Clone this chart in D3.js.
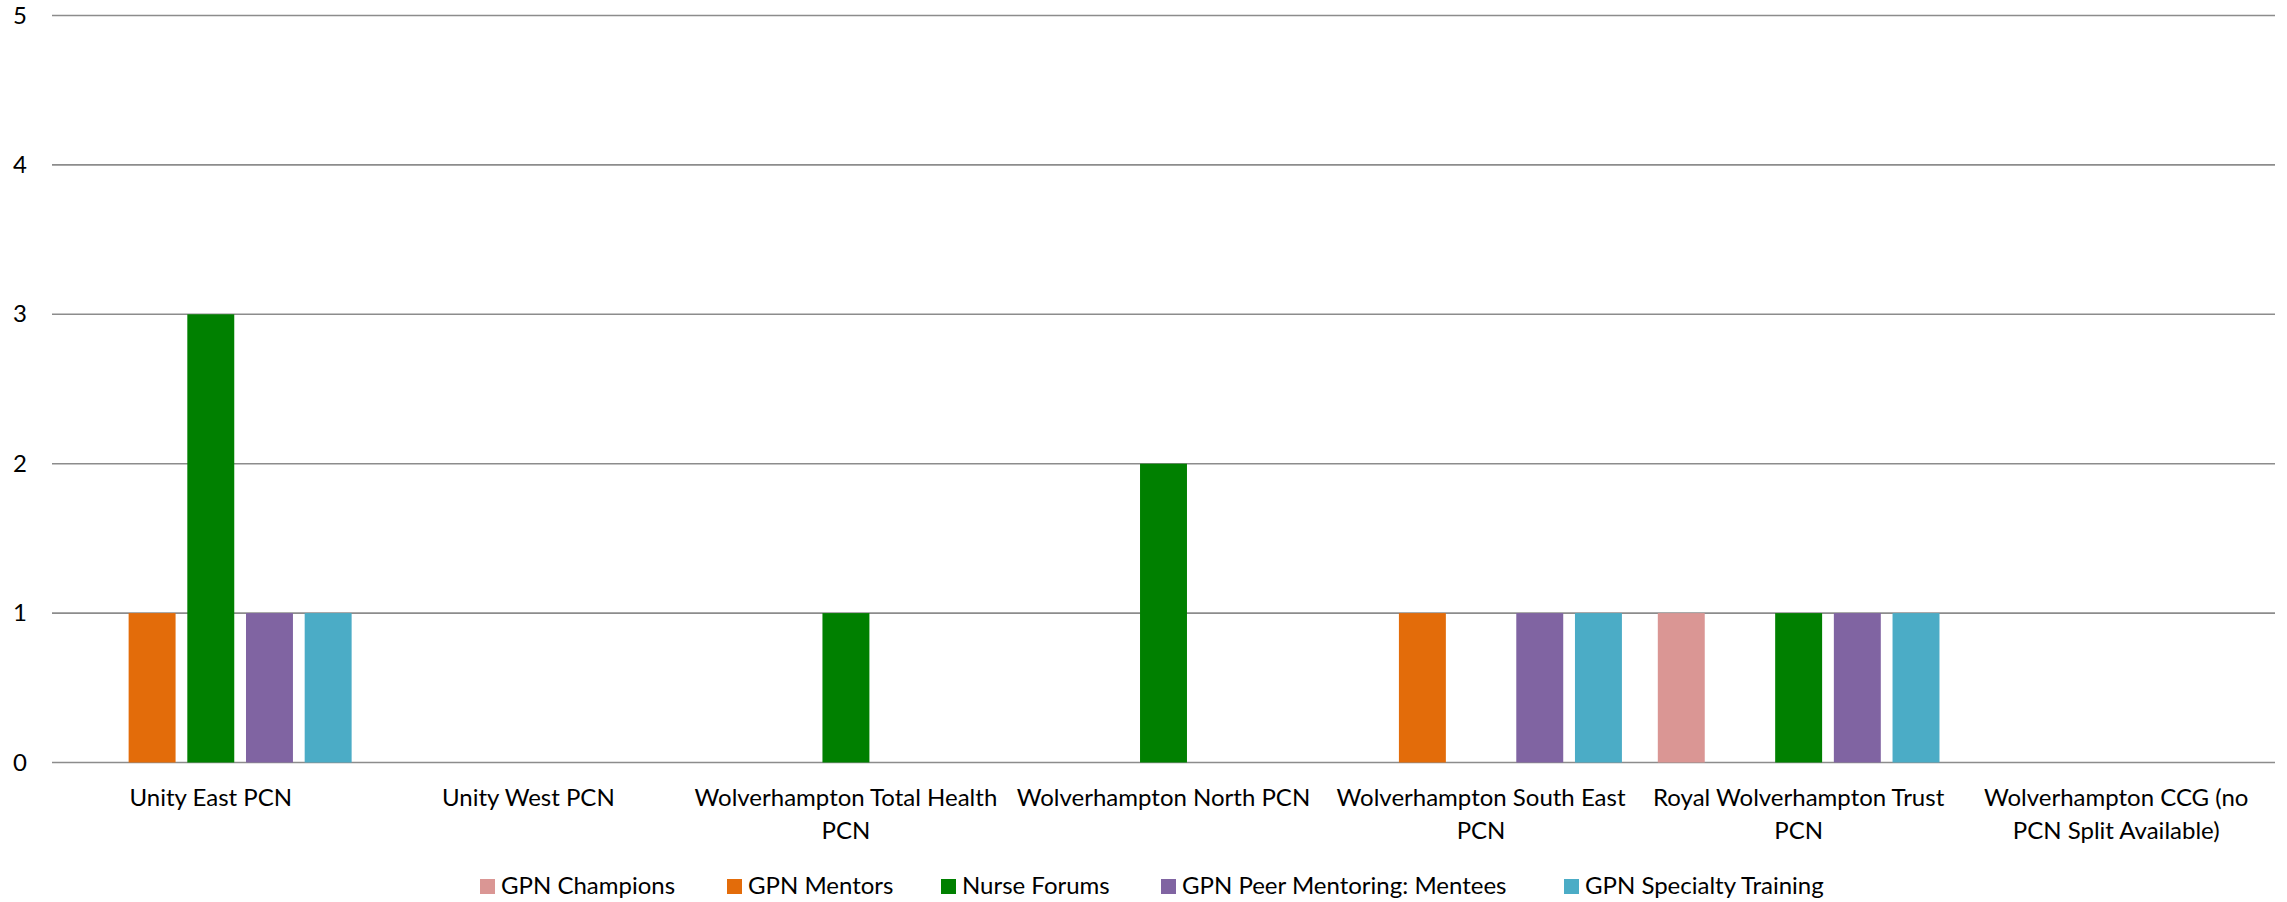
<!DOCTYPE html>
<html>
<head>
<meta charset="utf-8">
<script src="https://cdn.jsdelivr.net/npm/d3@7"></script>
<style>
  html, body { margin: 0; padding: 0; background: #fff; }
  svg { display: block; font-family: Lato, "Open Sans", sans-serif; }
</style>
</head>
<body>
<svg id="chart" width="2287" height="902"></svg>
<script>
// Primary care networks on the x axis
const categories = [
  "Unity East PCN",
  "Unity West PCN",
  "Wolverhampton Total Health PCN",
  "Wolverhampton North PCN",
  "Wolverhampton South East PCN",
  "Royal Wolverhampton Trust PCN",
  "Wolverhampton CCG (no PCN Split Available)"
];
// Axis labels as they wrap under each group
const categoryLabels = [
  ["Unity East PCN"],
  ["Unity West PCN"],
  ["Wolverhampton Total Health", "PCN"],
  ["Wolverhampton North PCN"],
  ["Wolverhampton South East", "PCN"],
  ["Royal Wolverhampton Trust", "PCN"],
  ["Wolverhampton CCG (no", "PCN Split Available)"]
];
const seriesNames = [
  "GPN Champions",
  "GPN Mentors",
  "Nurse Forums",
  "GPN Peer Mentoring: Mentees",
  "GPN Specialty Training"
];
const gpnChampions      = [0, 0, 0, 0, 0, 1, 0];
const gpnMentors        = [1, 0, 0, 0, 1, 0, 0];
const nurseForums       = [3, 0, 1, 2, 0, 1, 0];
const peerMentees       = [1, 0, 0, 0, 1, 1, 0];
const specialtyTraining = [1, 0, 0, 0, 1, 1, 0];
const yTicks = [0, 1, 2, 3, 4, 5];

const seriesValues = [gpnChampions, gpnMentors, nurseForums, peerMentees, specialtyTraining];
const colors = ["#DA9694", "#E36C0A", "#008000", "#8064A2", "#4BACC6"];

const svg = d3.select("#chart");
const plotLeft = 52, plotRight = 2275, plotTop = 15.5, plotBottom = 762.5;

const y = d3.scaleLinear().domain([0, 5]).range([plotBottom, plotTop]);
const x0 = d3.scaleBand().domain(categories).range([plotLeft, plotRight])
  .paddingInner(0.113).paddingOuter(0.0565);
const x1 = d3.scaleBand().domain(seriesNames).range([0, x0.bandwidth()])
  .paddingInner(0.2).paddingOuter(0);

// Horizontal gridlines, including the baseline
svg.append("g")
  .selectAll("line")
  .data(yTicks)
  .join("line")
  .attr("x1", plotLeft).attr("x2", plotRight)
  .attr("y1", d => y(d)).attr("y2", d => y(d))
  .attr("stroke", "#8c8c8c")
  .attr("stroke-width", 1.6);

// Y axis tick labels
const yAxis = d3.axisLeft(y).tickValues(yTicks).tickFormat(d3.format("d"))
  .tickSize(0).tickPadding(0);
const gy = svg.append("g").attr("transform", `translate(27,0)`).call(yAxis);
gy.select(".domain").remove();
gy.selectAll("text")
  .attr("font-family", "Lato, 'Open Sans', sans-serif")
  .attr("font-size", 24)
  .attr("fill", "#000");

// Bars
const rows = [];
categories.forEach((c, ci) => {
  seriesNames.forEach((s, si) => {
    rows.push({ category: c, series: s, value: seriesValues[si][ci], color: colors[si] });
  });
});
svg.append("g")
  .selectAll("rect")
  .data(rows.filter(d => d.value > 0))
  .join("rect")
  .attr("x", d => x0(d.category) + x1(d.series))
  .attr("width", x1.bandwidth())
  .attr("y", d => y(d.value))
  .attr("height", d => y(0) - y(d.value))
  .attr("fill", d => d.color);

// Category labels
const xl = svg.append("g")
  .attr("font-size", 24)
  .attr("fill", "#000")
  .attr("text-anchor", "middle");
categories.forEach((c, ci) => {
  const cx = x0(c) + x0.bandwidth() / 2;
  const t = xl.append("text").attr("x", cx).attr("y", 806);
  categoryLabels[ci].forEach((line, li) => {
    t.append("tspan").attr("x", cx).attr("y", 806 + li * 33).text(line);
  });
});

// Legend
const legendX = [480, 727, 941, 1161, 1564];
const lg = svg.append("g").attr("font-size", 24).attr("fill", "#000");
seriesNames.forEach((s, i) => {
  lg.append("rect")
    .attr("x", legendX[i]).attr("y", 879)
    .attr("width", 15).attr("height", 15)
    .attr("fill", colors[i]);
  lg.append("text")
    .attr("x", legendX[i] + 21).attr("y", 894)
    .text(s);
});
</script>
</body>
</html>
